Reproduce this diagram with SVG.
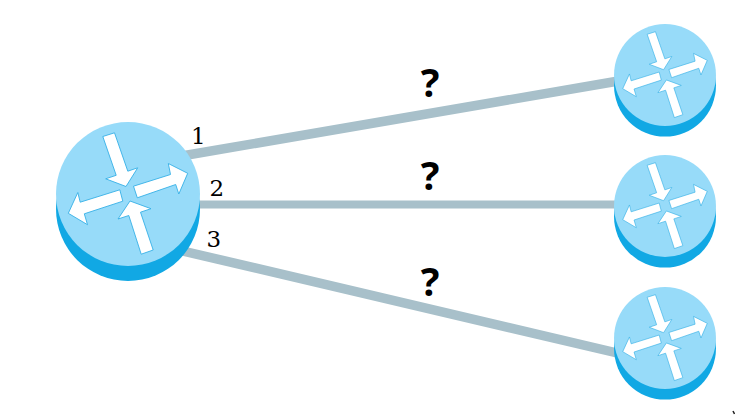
<svg xmlns="http://www.w3.org/2000/svg" width="735" height="415" viewBox="0 0 735 415">
<style>
.base{fill:#11a8e4}
.top{fill:#97dbf9}
.arr{fill:#fff;stroke:#35b0e6;stroke-width:0.9}
.link{stroke:#a8c0ca;fill:none}
.num{font-family:"DejaVu Serif",serif;font-size:23px;fill:#000}
.q{font-family:"Noto Sans",sans-serif;font-weight:700;font-size:39px;fill:#000;text-anchor:middle}
</style>
<defs>
<g id="router">
<circle class="base" cx="0" cy="15" r="72"/>
<circle class="top" cx="0" cy="0" r="72"/>
<polygon class="arr" points="-25.200,-57.500 -13.500,-61.200 -0.200,-22.800 9.700,-26.200 -2,-7.500 -22.300,-15.200 -11.800,-18.700"/>
<polygon class="arr" points="5.500,-7.800 42.500,-19.500 40.300,-30.500 59.700,-20.700 50.800,0 47.700,-9.500 9.300,3.800"/>
<polygon class="arr" points="-8.200,-4.200 -5.200,7.200 -43.700,19.800 -40.500,30.700 -59.700,19.300 -50.200,-1.500 -47.800,8.200"/>
<polygon class="arr" points="2,7 23,14.700 12.500,18.200 25.200,56 13.200,60.200 0.800,21.500 -10,25"/>
</g>
</defs>
<g id="connectors">
<line class="link" x1="170" y1="158" x2="630" y2="79" stroke-width="9.500"/>
<line class="link" x1="180" y1="204.500" x2="630" y2="204.500" stroke-width="8"/>
<line class="link" x1="170" y1="248" x2="630" y2="356" stroke-width="9.500"/>
</g>
<g id="router-main"><use href="#router" transform="translate(128 194)"/></g>
<g id="router-a"><use href="#router" transform="translate(665 75) scale(0.708)"/></g>
<g id="router-b"><use href="#router" transform="translate(665 206) scale(0.708)"/></g>
<g id="router-c"><use href="#router" transform="translate(665 338) scale(0.708)"/></g>
<g id="labels">
<text class="num" x="191" y="144">1</text>
<text class="num" x="209.500" y="196">2</text>
<text class="num" x="206.500" y="247">3</text>
<text class="q" x="430" y="97">?</text>
<text class="q" x="430" y="190">?</text>
<text class="q" x="430" y="296">?</text>
</g>
<path d="M733 411l1.500 3" stroke="#222" stroke-width="1.500" fill="none"/>
</svg>
